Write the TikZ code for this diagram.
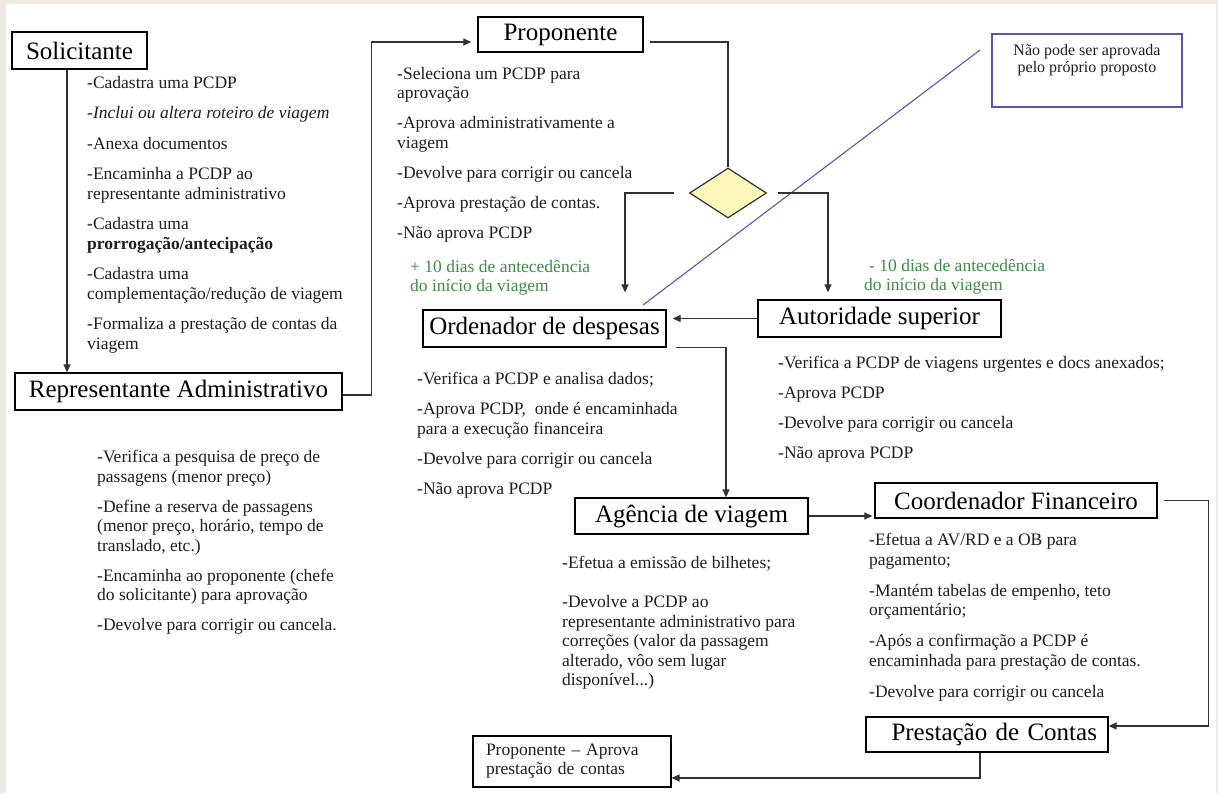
\documentclass[tikz,border=0pt]{standalone}
\usepackage{fontspec}
\setmainfont{Liberation Serif}
\usetikzlibrary{arrows.meta,shapes.geometric}
\definecolor{pagebg}{RGB}{238,234,224}
\definecolor{ink}{RGB}{30,30,30}
\definecolor{wire}{RGB}{50,50,50}
\definecolor{deadline}{RGB}{62,140,72}
\definecolor{notecol}{RGB}{92,84,178}
\definecolor{decision}{RGB}{255,246,186}
\begin{document}
\begin{tikzpicture}[x=1pt,y=-1pt,
  titlebox/.style={draw=black,line width=1.3pt,inner sep=0pt,
    font=\fontsize{25}{28}\selectfont,text=black},
  steps/.style={anchor=north west,align=left,inner sep=0pt,
    font=\fontsize{17.5}{19.5}\selectfont,text=ink},
  wireplain/.style={draw=wire,line width=1.2pt},
  conn/.style={wireplain,-{Triangle[length=8pt,width=7pt]}}]

% page
\useasboundingbox (0,0) rectangle (1218,793);
\fill[pagebg] (0,0) rectangle (1218,793);
\fill[white] (6,4) rectangle (1216,793);

% actors
\node[titlebox,minimum width=135pt,minimum height=37pt] (sol) at (79.5,50.5) {Solicitante};
\node[titlebox,minimum width=327pt,minimum height=37pt] (rep) at (178.5,391.5) {Representante Administrativo};
\node[titlebox,minimum width=165pt,minimum height=35pt] (prop) at (560.5,34.5) {Proponente};
\node[titlebox,minimum width=243pt,minimum height=37pt] (ord) at (544.5,328.5) {Ordenador de despesas};
\node[titlebox,minimum width=243pt,minimum height=37pt] (aut) at (879.5,318.5) {Autoridade superior};
\node[titlebox,minimum width=233pt,minimum height=36pt] (ag) at (691.5,516) {Agência de viagem};
\node[titlebox,minimum width=282pt,minimum height=35pt] (coord) at (1016,500.5) {Coordenador Financeiro};
\node[titlebox,minimum width=242pt,minimum height=35pt,text width=220pt,align=right] (prest) at (987,734.5) {Prestação de Contas};
\node[draw=black,line width=1.2pt,inner xsep=13pt,inner ysep=0pt,text width=172pt,
  minimum height=51pt,align=left,font=\fontsize{17.5}{19}\selectfont,text=ink] (aprov) at (572,761.5)
  {Proponente -- Aprova\\prestação de contas};

% decision
\node[diamond,draw=wire,line width=1.2pt,fill=decision,minimum width=77pt,
  minimum height=50pt,inner sep=0pt] (dia) at (728,193) {};

% remark
\node[draw=notecol,line width=1.2pt,minimum width=190pt,minimum height=73pt,inner sep=0pt] (note) at (1087,70.5) {};
\node[anchor=north,align=center,inner sep=0pt,font=\fontsize{16}{17}\selectfont,text=ink]
  (notetext) at ([yshift=-11pt]note.north) {Não pode ser aprovada\\pelo próprio proposto};
\coordinate (slashtop) at (980,50);
\coordinate (slashbot) at (643,305);
\draw[draw=notecol,line width=1.1pt] (slashtop) -- (slashbot);

% duties
\node[steps] (solsteps) at (87,76) {-Cadastra uma PCDP\\[11pt]
  \textit{-Inclui ou altera roteiro de viagem}\\[11pt]
  -Anexa documentos\\[11pt]
  -Encaminha a PCDP ao\\representante administrativo\\[11pt]
  -Cadastra uma\\\textbf{prorrogação/antecipação}\\[11pt]
  -Cadastra uma\\complementação/redução de viagem\\[11pt]
  -Formaliza a prestação de contas da\\viagem};

\node[steps] (repsteps) at (97,450) {-Verifica a pesquisa de preço de\\passagens (menor preço)\\[10.5pt]
  -Define a reserva de passagens\\(menor preço, horário, tempo de\\translado, etc.)\\[10.5pt]
  -Encaminha ao proponente (chefe\\do solicitante) para aprovação\\[10.5pt]
  -Devolve para corrigir ou cancela.};

\node[steps] (propsteps) at (397,67) {-Seleciona um PCDP para\\aprovação\\[10.5pt]
  -Aprova administrativamente a\\viagem\\[10.5pt]
  -Devolve para corrigir ou cancela\\[10.5pt]
  -Aprova prestação de contas.\\[10.5pt]
  -Não aprova PCDP};

\node[steps,text=deadline] (leadplus) at (410,260) {+ 10 dias de antecedência\\do início da viagem};
\node[steps,text=deadline] (leadminus) at (864,259) {\hspace*{5pt}- 10 dias de antecedência\\do início da viagem};

\node[steps] (ordsteps) at (417,372) {-Verifica a PCDP e analisa dados;\\[10.5pt]
  -Aprova PCDP,~ onde é encaminhada\\para a execução financeira\\[10.5pt]
  -Devolve para corrigir ou cancela\\[10.5pt]
  -Não aprova PCDP};

\node[steps] (autsteps) at (778,356) {-Verifica a PCDP de viagens urgentes e docs anexados;\\[10.5pt]
  -Aprova PCDP\\[10.5pt]
  -Devolve para corrigir ou cancela\\[10.5pt]
  -Não aprova PCDP};

\node[steps] (agsteps) at (562,556) {-Efetua a emissão de bilhetes;\\[19.5pt]
  -Devolve a PCDP ao\\representante administrativo para\\correções (valor da passagem\\alterado, vôo sem lugar\\disponível...)};

\node[steps] (coordsteps) at (869,533) {-Efetua a AV/RD e a OB para\\pagamento;\\[11.5pt]
  -Mantém tabelas de empenho, teto\\orçamentário;\\[11.5pt]
  -Após a confirmação a PCDP é\\encaminhada para prestação de contas.\\[11.5pt]
  -Devolve para corrigir ou cancela};

% flow
\draw[conn] ([xshift=-12.5pt]sol.south) -- ([xshift=-12.5pt]sol.south |- rep.north);
\draw[conn,shorten >=6pt] ([yshift=-3.5pt]rep.east) -- ++(29,0) |- ([yshift=-7.5pt]prop.west);
\draw[wireplain] ([xshift=6pt,yshift=-7.5pt]prop.east) -| (dia.north);
\draw[conn,shorten <=15pt,shorten >=17pt] (dia.west) -| ([xshift=80.5pt]ord.north);
\draw[conn,shorten <=10.5pt,shorten >=7pt] (dia.east) -| ([xshift=-51.5pt]aut.north);
\draw[conn,shorten >=6pt] (aut.west) -- (aut.west -| ord.east);
\draw[conn] ([xshift=9pt]ord.south east) -| ([xshift=34.5pt]ag.north);
\draw[conn,shorten >=2pt] (ag.east) -- (ag.east -| coord.west);
\draw[conn] ([xshift=6pt]coord.east) -- ++(45,0) |- ([yshift=8.5pt]prest.east);
\draw[conn] ([xshift=-7pt]prest.south) |- ([yshift=-16.5pt]aprov.east);
\end{tikzpicture}
\end{document}
